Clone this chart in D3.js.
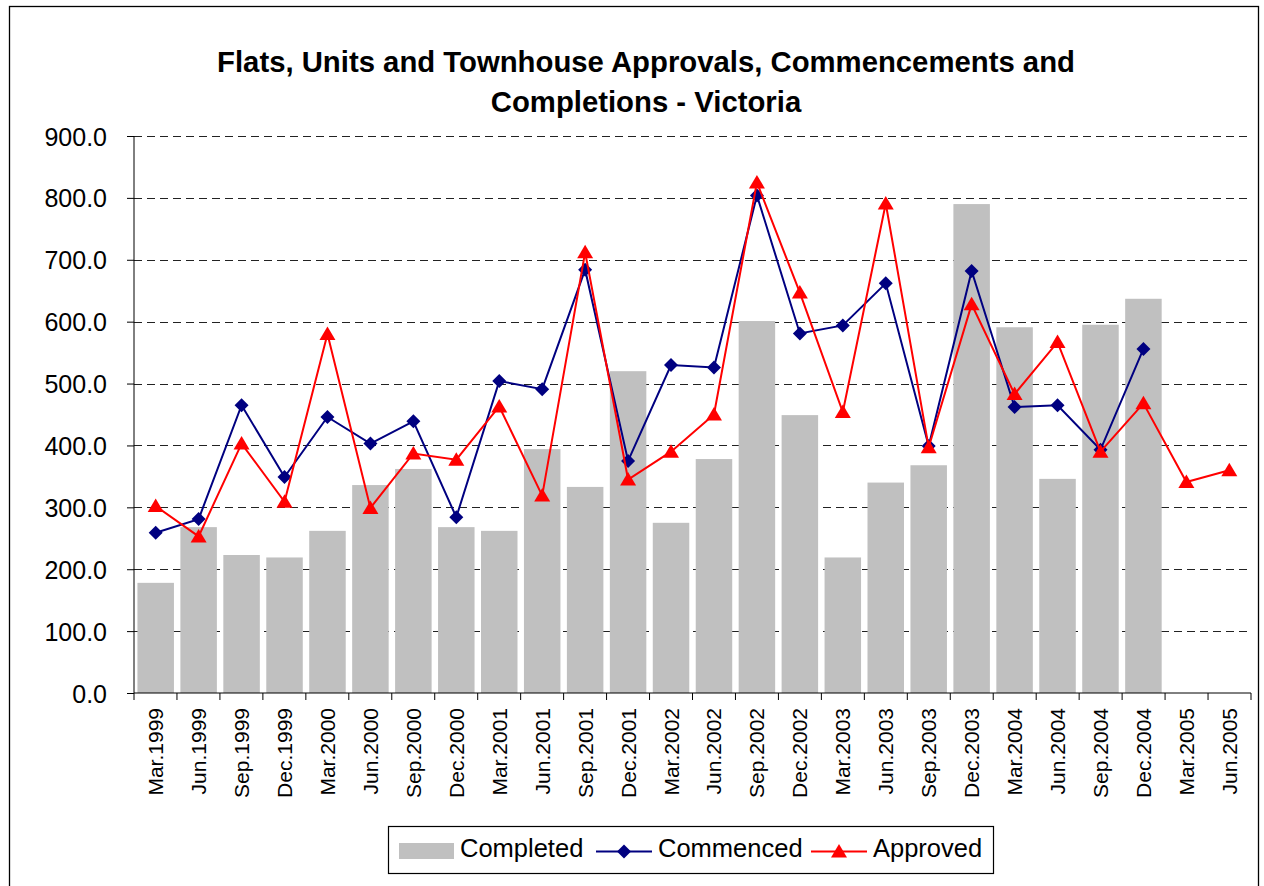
<!DOCTYPE html>
<meta charset="utf-8">
<body style="margin:0;background:#fff">
<script src="https://d3js.org/d3.v7.min.js"></script>
<svg id="chart" width="1264" height="886"></svg>
<script>
// quarters on the x axis
var quarters = ["Mar.1999","Jun.1999","Sep.1999","Dec.1999","Mar.2000","Jun.2000","Sep.2000","Dec.2000",
  "Mar.2001","Jun.2001","Sep.2001","Dec.2001","Mar.2002","Jun.2002","Sep.2002","Dec.2002",
  "Mar.2003","Jun.2003","Sep.2003","Dec.2003","Mar.2004","Jun.2004","Sep.2004","Dec.2004",
  "Mar.2005","Jun.2005"];

var completed = [178,268,223,219,262,336,362,268,262,394,333,520,275,378,601,449,219,340,368,790,591,346,595,637,null,null];
var commenced = [259,281,465,349,446,403,439,284,504,491,684,375,530,526,804,581,594,662,399,682,462,465,393,556,null,null];
var approved  = [302,253,403,309,580,299,387,377,463,319,712,345,390,450,825,647,454,791,397,628,483,567,390,468,341,360];

var yTicks = [0,100,200,300,400,500,600,700,800,900];

var svg = d3.select("#chart");
var plot = {x0: 134, x1: 1251, y0: 136, y1: 693};
var font = "Liberation Sans, Arial, sans-serif";

// outer frame
svg.append("rect").attr("x",9.5).attr("y",6.5).attr("width",1249).attr("height",900)
  .attr("fill","none").attr("stroke","#000").attr("stroke-width",1.3);

// title
var title = svg.append("text").attr("text-anchor","middle")
  .attr("font-family",font).attr("font-weight","bold")
  .attr("font-size",29.3).attr("fill","#000");
title.append("tspan").attr("x",646).attr("y",72).text("Flats, Units and Townhouse Approvals, Commencements and");
title.append("tspan").attr("x",646).attr("y",112).text("Completions - Victoria");

var x = d3.scaleBand().domain(d3.range(quarters.length)).range([plot.x0,plot.x1]).paddingInner(0.15).paddingOuter(0.08);
var y = d3.scaleLinear().domain([0,900]).range([plot.y1,plot.y0]);
var cx = function(i){ return x(i) + x.bandwidth()/2; };

// dashed gridlines
svg.append("g").selectAll("line").data(yTicks.slice(1)).join("line")
  .attr("x1",plot.x0).attr("x2",plot.x1)
  .attr("y1",function(d){return Math.round(y(d))+0.5;})
  .attr("y2",function(d){return Math.round(y(d))+0.5;})
  .attr("stroke","#222").attr("stroke-width",1).attr("stroke-dasharray","8,5");

// bars
svg.append("g").selectAll("rect").data(completed.map(function(d,i){return {v:d,i:i};}).filter(function(d){return d.v != null;}))
  .join("rect")
  .attr("x",function(d){ return x(d.i); })
  .attr("y",function(d){return y(d.v);}).attr("width",x.bandwidth())
  .attr("height",function(d){return plot.y1 - y(d.v);}).attr("fill","#c0c0c0");

// y axis
var yAxis = d3.axisLeft(y).tickValues(yTicks).tickFormat(d3.format(".1f")).tickSize(7).tickPadding(20);
var ya = svg.append("g").attr("transform","translate("+plot.x0+",0)").call(yAxis);
ya.selectAll("text").attr("font-family",font).attr("font-size",25).attr("fill","#000").attr("dy","0.36em");
ya.selectAll("line,path").attr("stroke","#000");
ya.select(".domain").attr("d","M0,"+plot.y0+"V"+plot.y1);

// x axis: ticks between categories
var xa = svg.append("g").attr("transform","translate(0,"+plot.y1+")");
xa.append("line").attr("x1",plot.x0).attr("x2",plot.x1).attr("stroke","#000");
var w = (plot.x1-plot.x0)/quarters.length;
xa.selectAll("line.tk").data(d3.range(quarters.length+1)).join("line").attr("class","tk")
  .attr("x1",function(i){return plot.x0 + i*w;})
  .attr("x2",function(i){return plot.x0 + i*w;})
  .attr("y1",0).attr("y2",7).attr("stroke","#000");
xa.selectAll("text").data(quarters).join("text")
  .attr("transform",function(d,i){ return "translate("+(plot.x0 + (i+0.5)*w + 7.5)+",15) rotate(-90)"; })
  .attr("text-anchor","end").attr("font-family",font)
  .attr("font-size",21).attr("fill","#000").text(function(d){return d;});

// marker shapes
var diamond = "M0,-7L7,0L0,7L-7,0Z";
var triangle = "M0,-7.5L8,6L-8,6Z";

function drawSeries(data, color, shape) {
  var pts = data.map(function(d,i){ return d == null ? null : [cx(i), y(d)]; }).filter(Boolean);
  svg.append("path").datum(pts).attr("fill","none").attr("stroke",color).attr("stroke-width",2)
    .attr("d", d3.line());
  svg.append("g").selectAll("path").data(pts).join("path")
    .attr("transform",function(p){return "translate("+p[0]+","+p[1]+")";})
    .attr("d", shape).attr("fill",color);
}
drawSeries(commenced, "#000080", diamond);
drawSeries(approved, "#ff0000", triangle);

// legend
var lg = svg.append("g").attr("font-family",font).attr("font-size",25.5);
lg.append("rect").attr("x",388.5).attr("y",826.5).attr("width",605).attr("height",47)
  .attr("fill","#fff").attr("stroke","#000").attr("stroke-width",1.2);
lg.append("rect").attr("x",399).attr("y",843).attr("width",55).attr("height",16).attr("fill","#c0c0c0");
lg.append("text").attr("x",460).attr("y",857).text("Completed");
lg.append("line").attr("x1",596).attr("x2",652).attr("y1",851.5).attr("y2",851.5).attr("stroke","#000080").attr("stroke-width",2);
lg.append("path").attr("transform","translate(624,851.5)").attr("d",diamond).attr("fill","#000080");
lg.append("text").attr("x",658).attr("y",857).text("Commenced");
lg.append("line").attr("x1",811).attr("x2",867).attr("y1",851.5).attr("y2",851.5).attr("stroke","#ff0000").attr("stroke-width",2);
lg.append("path").attr("transform","translate(839,851.5)").attr("d",triangle).attr("fill","#ff0000");
lg.append("text").attr("x",873).attr("y",857).text("Approved");
</script>
</body>
